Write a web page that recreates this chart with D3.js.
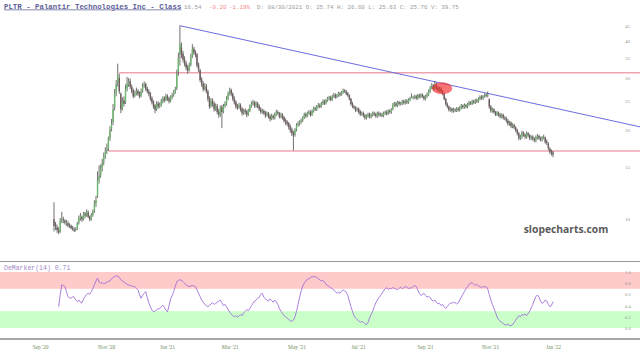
<!DOCTYPE html>
<html>
<head>
<meta charset="utf-8">
<script src="https://cdn.jsdelivr.net/npm/d3@7"></script>
<style>
  body { margin: 0; background: #fff; }
  svg { display: block; }
</style>
</head>
<body>
<div id="chart-area"></div>
<script>
// PLTR daily candles, trading days 30 Sep 2020 .. 7 Jan 2022 (index 0..321)
const opens = [
  10.0, 9.6, 9.4, 9.2, 9.1, 9.9, 10.0, 9.9, 9.7, 9.7,
  9.55, 9.5, 9.35, 9.25, 9.2, 9.3, 9.75, 10.1, 10.2, 10.0,
  10.45, 10.3, 10.55, 10.2, 10.0, 10.35, 10.7, 11.3, 12.0, 13.6,
  14.1, 14.9, 15.6, 16.3, 17.0, 17.4, 18.8, 20.2, 21.3, 23.8,
  26.8, 29.0, 30.0, 26.5, 23.6, 25.2, 24.8, 27.6, 28.6, 29.2,
  28.0, 27.2, 26.1, 26.6, 27.1, 26.6, 26.1, 27.1, 28.1, 28.6,
  27.6, 27.0, 26.6, 25.6, 24.9, 24.2, 23.5, 24.6, 24.1, 24.3,
  25.0, 25.6, 25.3, 26.1, 25.6, 25.1, 25.8, 26.3, 26.9, 27.8,
  31.5, 36.0, 38.0, 36.2, 34.6, 33.6, 32.6, 32.0, 33.2, 35.6,
  37.6, 36.6, 36.0, 33.2, 31.8, 29.6, 28.6, 27.6, 28.1, 27.0,
  25.6, 24.1, 25.1, 24.6, 23.6, 24.1, 23.1, 22.6, 23.9, 23.1,
  24.1, 24.6, 25.6, 26.6, 27.3, 26.5, 25.6, 24.9, 24.1, 23.9,
  24.2, 23.6, 22.9, 23.3, 23.1, 22.6, 23.3, 24.1, 24.5, 24.8,
  24.2, 24.6, 24.1, 23.5, 23.1, 23.2, 22.9, 22.5, 22.8, 22.3,
  21.9, 22.3, 22.0, 22.6, 23.0, 22.8, 22.3, 22.5, 22.1, 21.6,
  21.3, 21.1, 20.6, 20.1, 19.6, 19.3, 20.1, 20.8, 21.0, 21.3,
  21.6, 22.1, 22.6, 22.4, 22.8, 23.0, 22.6, 23.2, 23.7, 23.5,
  24.0, 24.3, 24.1, 24.6, 25.0, 24.7, 25.2, 25.5, 25.8, 25.4,
  26.0, 26.3, 25.9, 26.2, 26.6, 26.4, 26.8, 27.2, 27.0, 26.6,
  26.2, 25.5, 24.6, 24.0, 23.8, 23.4, 23.6, 23.1, 22.7, 22.8,
  22.4, 22.0, 22.3, 22.6, 22.2, 22.5, 22.8, 22.6, 22.3, 22.8,
  22.5, 22.6, 22.4, 22.8, 23.0, 22.8, 23.2, 23.0, 23.6, 24.3,
  24.6, 24.2, 24.8, 24.5, 24.6, 25.0, 24.7, 25.1, 24.8, 25.3,
  25.74, 25.8, 25.8, 26.0, 25.6, 26.2, 25.9, 26.3, 26.0, 25.5,
  26.0, 26.4, 27.0, 27.8, 28.3, 27.6, 28.5, 27.8, 27.2, 27.6,
  27.0, 26.5, 25.5, 24.5, 24.0, 23.4, 23.6, 23.2, 23.5, 23.3,
  23.6, 23.4, 23.8, 24.2, 23.9, 24.3, 24.0, 24.4, 24.8, 24.6,
  25.0, 24.8, 25.2, 25.0, 25.5, 25.9, 25.6, 26.0, 26.3, 26.1,
  25.4, 24.0, 23.2, 23.5, 23.0, 22.6, 22.9, 22.5, 22.2, 22.5,
  22.0, 21.9, 21.5, 21.0, 21.2, 20.6, 20.8, 20.4, 20.0, 19.5,
  18.8, 19.0, 19.6, 19.3, 19.0, 19.5, 19.2, 18.8, 19.0, 18.7,
  18.5, 18.9, 19.1, 18.8, 18.6, 18.9, 18.9, 18.3, 18.0, 17.3,
  16.9, 16.8
];
const highs = [
  11.41, 9.8, 9.6, 9.4, 10.1, 10.6, 10.2, 10.0, 9.95, 9.85,
  9.7, 9.6, 9.5, 9.4, 9.4, 9.8, 10.3, 10.5, 10.3, 10.6,
  10.6, 10.8, 10.7, 10.3, 10.5, 10.8, 11.6, 12.0, 14.5, 15.2,
  15.3, 16.0, 16.8, 17.5, 18.0, 19.0, 20.6, 21.8, 24.5, 27.5,
  29.5, 33.5, 31.0, 26.8, 25.8, 26.0, 28.5, 30.2, 30.0, 29.8,
  28.5, 27.6, 27.2, 27.8, 27.5, 27.0, 27.6, 28.8, 29.2, 28.9,
  28.0, 27.5, 26.9, 26.0, 25.2, 24.5, 25.0, 25.0, 24.8, 25.5,
  26.0, 26.0, 26.5, 26.4, 25.9, 26.2, 26.7, 27.3, 28.0, 32.0,
  36.5, 45.0, 39.5, 37.0, 35.5, 34.2, 33.2, 33.8, 36.2, 39.0,
  38.2, 37.2, 36.4, 33.8, 32.2, 30.2, 29.2, 28.8, 28.6, 27.4,
  26.0, 25.6, 25.6, 25.0, 24.6, 24.5, 23.6, 24.2, 24.3, 24.5,
  25.0, 26.0, 27.0, 27.8, 27.6, 26.8, 26.0, 25.2, 24.5, 24.7,
  24.6, 23.9, 23.6, 23.7, 23.4, 23.6, 24.4, 25.0, 25.3, 25.1,
  25.0, 24.9, 24.4, 23.9, 23.6, 23.5, 23.2, 23.1, 23.0, 22.6,
  22.7, 22.6, 22.9, 23.4, 23.3, 23.0, 22.9, 22.8, 22.3, 21.9,
  21.6, 21.3, 20.9, 20.4, 19.9, 20.3, 21.1, 21.4, 21.6, 21.9,
  22.3, 22.9, 22.9, 23.1, 23.4, 23.3, 23.5, 24.0, 24.0, 24.3,
  24.7, 24.6, 24.9, 25.4, 25.3, 25.5, 25.9, 26.1, 26.1, 26.3,
  26.7, 26.6, 26.5, 26.9, 26.9, 27.1, 27.6, 27.5, 27.3, 26.9,
  26.4, 25.7, 24.9, 24.3, 24.1, 23.9, 23.8, 23.4, 23.1, 23.1,
  22.7, 22.6, 22.9, 22.9, 22.8, 23.1, 23.1, 22.9, 23.1, 23.1,
  22.9, 22.9, 23.1, 23.3, 23.3, 23.5, 23.5, 23.7, 24.7, 24.9,
  24.9, 25.1, 25.1, 24.9, 25.3, 25.3, 25.4, 25.4, 25.6, 25.9,
  26.6, 26.1, 26.3, 26.3, 26.5, 26.5, 26.6, 26.6, 26.2, 26.3,
  26.8, 27.4, 28.2, 28.8, 28.6, 29.3, 28.9, 28.1, 28.0, 27.9,
  27.3, 26.7, 25.7, 24.8, 24.2, 23.9, 23.8, 23.8, 23.7, 23.9,
  23.9, 24.1, 24.5, 24.4, 24.6, 24.5, 24.7, 25.1, 25.0, 25.3,
  25.3, 25.5, 25.5, 25.8, 26.2, 26.2, 26.3, 26.6, 26.6, 27.0,
  25.6, 24.3, 23.8, 23.7, 23.2, 23.2, 23.1, 22.8, 22.8, 22.7,
  22.3, 22.2, 21.8, 21.5, 21.4, 21.1, 21.0, 20.6, 20.2, 19.7,
  19.3, 19.9, 19.8, 19.5, 19.8, 19.7, 19.4, 19.2, 19.2, 18.9,
  19.2, 19.4, 19.3, 19.0, 19.1, 19.3, 19.0, 18.6, 18.2, 17.5,
  17.2, 17.0
];
const lows = [
  9.11, 9.2, 9.0, 8.9, 9.0, 9.7, 9.7, 9.6, 9.5, 9.4,
  9.35, 9.25, 9.15, 9.05, 9.1, 9.2, 9.6, 9.9, 9.8, 9.9,
  10.1, 10.2, 10.1, 9.85, 9.9, 10.2, 10.5, 11.0, 11.8, 13.2,
  13.8, 14.5, 15.2, 16.0, 16.6, 17.0, 18.4, 19.8, 20.8, 23.3,
  26.0, 28.0, 26.5, 22.8, 23.3, 24.0, 24.5, 27.0, 28.0, 27.5,
  26.6, 25.6, 25.8, 26.2, 26.1, 25.6, 25.8, 26.7, 27.8, 27.1,
  26.6, 26.0, 25.1, 24.4, 23.6, 22.8, 23.2, 23.6, 23.7, 24.0,
  24.6, 24.8, 25.0, 25.1, 24.6, 24.8, 25.4, 25.9, 26.5, 27.3,
  30.5, 33.0, 35.0, 33.8, 32.8, 31.8, 31.0, 31.5, 32.8, 35.0,
  35.8, 35.2, 32.5, 31.4, 29.0, 28.0, 27.0, 27.2, 26.6, 25.0,
  23.6, 23.8, 24.0, 23.1, 23.2, 22.6, 22.0, 22.2, 20.3, 22.8,
  23.8, 24.2, 25.2, 26.2, 26.0, 25.1, 24.4, 23.6, 23.4, 23.6,
  23.1, 22.4, 22.5, 22.6, 22.1, 22.3, 23.0, 23.8, 24.2, 23.8,
  23.8, 23.7, 23.2, 22.7, 22.7, 22.5, 22.0, 22.2, 21.9, 21.4,
  21.6, 21.7, 21.7, 22.3, 22.5, 21.9, 21.9, 21.7, 21.2, 20.8,
  20.6, 20.1, 19.6, 19.1, 17.06, 19.0, 19.8, 20.5, 20.7, 21.0,
  21.3, 21.8, 22.0, 22.1, 22.5, 22.2, 22.3, 22.9, 23.2, 23.2,
  23.7, 23.7, 23.8, 24.3, 24.3, 24.4, 24.9, 25.2, 25.0, 25.1,
  25.7, 25.5, 25.6, 25.9, 26.0, 26.1, 26.5, 26.7, 26.2, 25.9,
  25.2, 24.2, 23.7, 23.5, 23.0, 23.1, 22.7, 22.3, 22.4, 22.1,
  21.7, 21.7, 22.0, 21.9, 21.9, 22.2, 22.3, 22.0, 22.0, 22.2,
  22.2, 22.1, 22.1, 22.5, 22.4, 22.5, 22.7, 22.7, 23.3, 24.0,
  23.9, 23.9, 24.2, 24.2, 24.3, 24.4, 24.4, 24.5, 24.5, 25.0,
  25.63, 25.4, 25.5, 25.3, 25.3, 25.6, 25.6, 25.7, 25.2, 25.2,
  25.7, 26.1, 26.7, 27.5, 27.2, 27.3, 27.5, 26.9, 26.9, 26.7,
  26.2, 25.2, 24.2, 23.7, 23.1, 23.1, 22.9, 22.9, 23.0, 23.0,
  23.1, 23.1, 23.5, 23.6, 23.6, 23.7, 23.7, 24.1, 24.3, 24.3,
  24.5, 24.5, 24.7, 24.7, 25.2, 25.3, 25.3, 25.7, 25.8, 25.8,
  23.6, 22.9, 22.9, 22.7, 22.3, 22.3, 22.2, 21.9, 21.9, 21.7,
  21.6, 21.2, 20.7, 20.7, 20.3, 20.3, 20.1, 19.7, 19.2, 18.5,
  18.5, 18.7, 19.0, 18.7, 18.7, 18.9, 18.5, 18.5, 18.4, 18.2,
  18.2, 18.6, 18.5, 18.3, 18.3, 18.6, 18.0, 17.8, 17.1, 16.6,
  16.4, 16.2
];
const closes = [
  9.5, 9.46, 9.2, 9.03, 9.9, 10.0, 9.95, 9.74, 9.76, 9.53,
  9.51, 9.33, 9.26, 9.16, 9.26, 9.7, 10.1, 10.25, 10.0, 10.45,
  10.3, 10.6, 10.2, 10.0, 10.3, 10.6, 11.3, 11.6, 13.5, 14.0,
  14.8, 15.5, 16.2, 16.9, 17.3, 18.7, 20.0, 21.0, 23.5, 26.5,
  28.5, 30.5, 27.0, 23.5, 25.0, 24.5, 27.5, 28.8, 29.0, 28.0,
  27.0, 26.0, 26.5, 27.0, 26.5, 26.0, 27.0, 28.0, 28.5, 27.5,
  27.0, 26.5, 25.5, 24.8, 24.0, 23.4, 24.5, 24.0, 24.2, 25.0,
  25.5, 25.2, 26.0, 25.5, 25.0, 25.8, 26.2, 26.8, 27.5, 31.0,
  35.0, 39.0, 36.0, 34.5, 33.5, 32.5, 31.8, 33.0, 35.5, 37.5,
  36.5, 36.0, 33.0, 32.0, 29.5, 28.5, 27.5, 28.0, 27.0, 25.5,
  24.0, 25.0, 24.5, 23.5, 24.0, 23.0, 22.5, 23.8, 23.0, 24.0,
  24.5, 25.5, 26.5, 27.2, 26.5, 25.5, 24.8, 24.0, 23.8, 24.2,
  23.5, 22.8, 23.2, 23.0, 22.5, 23.3, 24.0, 24.5, 24.8, 24.2,
  24.6, 24.0, 23.5, 23.0, 23.2, 22.8, 22.4, 22.8, 22.2, 21.8,
  22.3, 22.0, 22.5, 23.0, 22.8, 22.2, 22.5, 22.0, 21.5, 21.2,
  21.0, 20.5, 20.0, 19.5, 19.2, 20.0, 20.8, 21.0, 21.2, 21.5,
  22.0, 22.6, 22.3, 22.8, 23.0, 22.5, 23.2, 23.7, 23.5, 24.0,
  24.3, 24.0, 24.6, 25.0, 24.6, 25.2, 25.5, 25.8, 25.3, 26.0,
  26.3, 25.8, 26.2, 26.6, 26.3, 26.8, 27.2, 27.0, 26.5, 26.2,
  25.5, 24.5, 24.0, 23.8, 23.3, 23.6, 23.0, 22.6, 22.8, 22.4,
  22.0, 22.3, 22.6, 22.2, 22.5, 22.8, 22.6, 22.3, 22.8, 22.5,
  22.6, 22.4, 22.8, 23.0, 22.7, 23.2, 23.0, 23.4, 24.3, 24.6,
  24.2, 24.8, 24.5, 24.6, 25.0, 24.7, 25.1, 24.8, 25.3, 25.6,
  25.76, 25.8, 26.0, 25.6, 26.2, 25.9, 26.3, 26.0, 25.5, 26.0,
  26.4, 27.0, 27.8, 28.3, 27.5, 28.5, 27.8, 27.2, 27.6, 27.0,
  26.6, 25.5, 24.5, 24.0, 23.4, 23.6, 23.2, 23.5, 23.3, 23.6,
  23.4, 23.8, 24.2, 23.9, 24.3, 24.0, 24.4, 24.8, 24.6, 25.0,
  24.8, 25.2, 25.0, 25.5, 25.9, 25.6, 26.0, 26.3, 26.1, 26.5,
  24.0, 23.2, 23.5, 23.0, 22.6, 22.9, 22.5, 22.2, 22.5, 22.0,
  21.9, 21.5, 21.0, 21.2, 20.6, 20.8, 20.4, 20.0, 19.5, 18.8,
  19.0, 19.6, 19.3, 19.0, 19.5, 19.2, 18.8, 19.0, 18.7, 18.5,
  18.9, 19.1, 18.8, 18.6, 18.9, 19.0, 18.21, 18.1, 17.4, 16.9,
  16.74, 16.54
];

// DeMarker(14), first value sits on trading day index 3
const demStart = 3;
const demarker = [
  0.38, 0.60, 0.77, 0.76, 0.74, 0.65, 0.56, 0.54, 0.53, 0.56,
  0.55, 0.50, 0.47, 0.50, 0.46, 0.45, 0.52, 0.56, 0.60, 0.62,
  0.60, 0.65, 0.70, 0.77, 0.84, 0.89, 0.82, 0.80, 0.81, 0.79,
  0.80, 0.82, 0.83, 0.84, 0.88, 0.90, 0.92, 0.93, 0.93, 0.90,
  0.86, 0.84, 0.82, 0.80, 0.78, 0.77, 0.76, 0.75, 0.74, 0.74,
  0.71, 0.68, 0.60, 0.53, 0.58, 0.62, 0.65, 0.55, 0.45, 0.38,
  0.32, 0.29, 0.30, 0.33, 0.34, 0.35, 0.38, 0.41, 0.37, 0.32,
  0.29, 0.40, 0.52, 0.58, 0.65, 0.74, 0.83, 0.85, 0.86, 0.85,
  0.83, 0.80, 0.77, 0.75, 0.74, 0.75, 0.76, 0.75, 0.74, 0.68,
  0.62, 0.56, 0.50, 0.46, 0.42, 0.40, 0.38, 0.40, 0.43, 0.45,
  0.42, 0.44, 0.46, 0.48, 0.50, 0.45, 0.40, 0.42, 0.38, 0.33,
  0.28, 0.25, 0.22, 0.20, 0.22, 0.19, 0.21, 0.24, 0.22, 0.27,
  0.30, 0.33, 0.31, 0.35, 0.40, 0.44, 0.48, 0.50, 0.53, 0.55,
  0.60, 0.62, 0.55, 0.52, 0.50, 0.48, 0.52, 0.49, 0.46, 0.50,
  0.47, 0.42, 0.35, 0.30, 0.26, 0.22, 0.20, 0.18, 0.15, 0.13,
  0.12, 0.14, 0.20, 0.30, 0.42, 0.55, 0.66, 0.75, 0.80, 0.84,
  0.87, 0.88, 0.90, 0.92, 0.91, 0.92, 0.90, 0.88, 0.86, 0.84,
  0.85, 0.82, 0.78, 0.76, 0.74, 0.72, 0.70, 0.68, 0.65, 0.62,
  0.64, 0.62, 0.66, 0.68, 0.66, 0.64, 0.58, 0.48, 0.38, 0.30,
  0.22, 0.18, 0.15, 0.13, 0.10, 0.12, 0.10, 0.08, 0.06, 0.10,
  0.18, 0.24, 0.30, 0.38, 0.45, 0.50, 0.54, 0.58, 0.62, 0.66,
  0.70, 0.72, 0.69, 0.71, 0.70, 0.72, 0.71, 0.70, 0.68, 0.71,
  0.73, 0.70, 0.72, 0.74, 0.73, 0.70, 0.72, 0.71, 0.74, 0.76,
  0.74, 0.68, 0.62, 0.58, 0.60, 0.62, 0.58, 0.55, 0.57, 0.54,
  0.50, 0.48, 0.50, 0.46, 0.43, 0.44, 0.40, 0.42, 0.38, 0.35,
  0.38, 0.42, 0.45, 0.44, 0.46, 0.45, 0.43, 0.45, 0.50, 0.55,
  0.60, 0.65, 0.70, 0.74, 0.78, 0.80, 0.81, 0.78, 0.76, 0.78,
  0.75, 0.74, 0.72, 0.74, 0.73, 0.74, 0.70, 0.60, 0.50, 0.42,
  0.35, 0.28, 0.20, 0.15, 0.12, 0.10, 0.08, 0.06, 0.05, 0.07,
  0.05, 0.04, 0.06, 0.10, 0.14, 0.18, 0.22, 0.20, 0.24, 0.23,
  0.25, 0.22, 0.26, 0.30, 0.36, 0.42, 0.50, 0.56, 0.59, 0.55,
  0.48, 0.44, 0.46, 0.50, 0.48, 0.42, 0.38, 0.40, 0.47
];

// axis labels (month labels sit at a trading-day position)
const monthLabels = ["Sep '20", "Nov '20", "Jan '21", "Mar '21", "May '21", "Jul '21", "Sep '21", "Nov '21", "Jan '22"];
const monthPos = [-9, 33.5, 72.7, 113, 156, 195.6, 238.7, 280.6, 321];
const priceTicks = [10, 15, 20, 25, 30, 35, 40, 45];
const demTicks = [0, 0.2, 0.4, 0.6, 0.8, 1.0];

// drawn studies
const resistance = 31.2;
const support = 17.0;
const trendFrom = [81, 45.0];
const trendTo = [279, 26.6];
const circleAt = [249.7, 27.7];

const width = 640, height = 358;

const svg = d3.select("div#chart-area").append("svg")
    .attr("width", width)
    .attr("height", height)
    .style("font-family", "'Liberation Mono', monospace");

const x = d3.scaleLinear().domain([0, closes.length - 1]).range([54, 553]);
const y = d3.scaleLog().domain([10, 45]).range([219.3, 25.7]);
const yDem = d3.scaleLinear().domain([0, 1]).range([328, 272]);

// ---- header ----
const header = svg.append("text").attr("y", 8.5).style("white-space", "pre");
header.append("tspan")
    .attr("x", 4)
    .style("font-size", "7.4px")
    .style("font-weight", "bold")
    .style("fill", "#5a5e96")
    .style("text-decoration", "underline")
    .text("PLTR - Palantir Technologies Inc - Class");
header.append("tspan").attr("x", 184).style("font-size", "5.8px").style("fill", "#9a9a9a").text("16.54");
header.append("tspan").attr("x", 209).style("font-size", "5.8px").style("fill", "#f08a8a").text("-0.20");
header.append("tspan").attr("x", 229).style("font-size", "5.8px").style("fill", "#f08a8a").text("-1.19%");
header.append("tspan").attr("x", 257).style("font-size", "5.8px").style("fill", "#9a9a9a")
    .text("D: 08/30/2021 O: 25.74 H: 26.60 L: 25.63 C: 25.76 V: 39.75");

// ---- price panel ----
// horizontal support / resistance lines
svg.append("line")
    .attr("x1", x(42)).attr("x2", width)
    .attr("y1", y(resistance)).attr("y2", y(resistance))
    .style("stroke", "#e5788a").style("stroke-width", 1);
svg.append("line")
    .attr("x1", x(35)).attr("x2", width)
    .attr("y1", y(support)).attr("y2", y(support))
    .style("stroke", "#e5788a").style("stroke-width", 1);

// trendline extended to the right edge
const tx1 = x(trendFrom[0]), ty1 = y(trendFrom[1]);
const tx2 = x(trendTo[0]), ty2 = y(trendTo[1]);
const slope = (ty2 - ty1) / (tx2 - tx1);
svg.append("line")
    .attr("x1", tx1).attr("y1", ty1)
    .attr("x2", width).attr("y2", ty1 + slope * (width - tx1))
    .style("stroke", "#6c6ce0").style("stroke-width", 1);

// candles
const candles = svg.append("g").attr("class", "candles");
const idx = d3.range(closes.length);

candles.selectAll("line")
    .data(idx)
    .enter().append("line")
    .attr("x1", i => x(i)).attr("x2", i => x(i))
    .attr("y1", i => y(highs[i])).attr("y2", i => y(lows[i]))
    .style("stroke", "#4a4a4a")
    .style("stroke-width", 0.8);

candles.selectAll("rect")
    .data(idx)
    .enter().append("rect")
    .attr("x", i => x(i) - 0.7)
    .attr("width", 1.4)
    .attr("y", i => y(Math.max(opens[i], closes[i])))
    .attr("height", i => Math.max(0.8, Math.abs(y(opens[i]) - y(closes[i]))))
    .style("fill", i => closes[i] >= opens[i] ? "#6cb86c" : "#6e5c5c");

// red marker
svg.append("ellipse")
    .attr("cx", x(circleAt[0])).attr("cy", y(circleAt[1]))
    .attr("rx", 10).attr("ry", 6)
    .style("fill", "rgba(245,40,40,0.65)");

// price axis on the right
const yAxis = d3.axisRight(y).tickValues(priceTicks).tickSize(0).tickFormat(d3.format("d"));
svg.append("g")
    .attr("class", "y-axis")
    .attr("transform", "translate(625,0)")
    .call(yAxis)
    .call(g => g.select(".domain").remove())
    .selectAll("text")
    .attr("x", 0)
    .style("font-family", "'Liberation Serif', serif")
    .style("font-size", "5px")
    .style("fill", "#8c9a8c");

// watermark
svg.append("text")
    .attr("x", 566).attr("y", 233)
    .attr("text-anchor", "middle")
    .style("font-family", "'Open Sans', 'DejaVu Sans', sans-serif")
    .style("font-weight", "bold")
    .style("font-size", "10.3px")
    .style("fill", "#5a5a5a")
    .text("slopecharts.com");

// ---- DeMarker panel ----
svg.append("line")
    .attr("x1", 0).attr("x2", width).attr("y1", 261.5).attr("y2", 261.5)
    .style("stroke", "#999").style("stroke-width", 1);

svg.append("rect")
    .attr("x", 0).attr("width", width)
    .attr("y", yDem(1.0)).attr("height", yDem(0.7) - yDem(1.0))
    .style("fill", "#ffcaca");
svg.append("rect")
    .attr("x", 0).attr("width", width)
    .attr("y", yDem(0.3)).attr("height", yDem(0) - yDem(0.3))
    .style("fill", "#caffca");

svg.append("text")
    .attr("x", 4).attr("y", 270)
    .style("font-size", "6.5px")
    .style("fill", "#a58ac8")
    .text("DeMarker(14) 0.71");

const demLine = d3.line()
    .x((d, i) => x(i + demStart))
    .y(d => yDem(d));
svg.append("path")
    .datum(demarker)
    .attr("d", demLine)
    .style("fill", "none")
    .style("stroke", "#a070d8")
    .style("stroke-width", 0.9);

const demAxis = d3.axisRight(yDem).tickValues(demTicks).tickSize(0).tickFormat(d3.format(".1f"));
svg.append("g")
    .attr("transform", "translate(625,0)")
    .call(demAxis)
    .call(g => g.select(".domain").remove())
    .selectAll("text")
    .attr("x", 0)
    .style("font-family", "'Liberation Serif', serif")
    .style("font-size", "4.5px")
    .style("fill", "#8c9a8c");

svg.append("line")
    .attr("x1", 0).attr("x2", width).attr("y1", 339).attr("y2", 339)
    .style("stroke", "#888").style("stroke-width", 1.5);

// month axis
const xAxis = d3.axisBottom(x).tickValues(monthPos).tickSize(0)
    .tickFormat((d, i) => monthLabels[i]);
svg.append("g")
    .attr("class", "x-axis")
    .attr("transform", "translate(0,345)")
    .call(xAxis)
    .call(g => g.select(".domain").remove())
    .selectAll("text")
    .attr("y", 0)
    .attr("dy", "0.8em")
    .style("font-family", "'Liberation Serif', serif")
    .style("font-size", "5.5px")
    .style("fill", "#6f8f5f");
</script>
</body>
</html>
